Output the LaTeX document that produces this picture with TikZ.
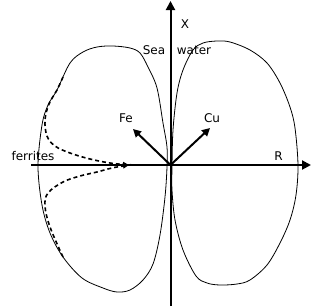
\documentclass[tikz,border=0pt]{standalone}
\usepackage{fontspec}
\setmainfont{DejaVu Sans}
\usetikzlibrary{arrows.meta}
\begin{document}
\begin{tikzpicture}[x=1pt,y=-1pt,
  axis/.style={line width=2pt,-{Triangle[length=9pt,width=9pt]}},
  vec/.style={line width=2pt,-{Triangle[length=8pt,width=8pt]}},
  lobe/.style={line width=0.8pt},
  dashline/.style={line width=1.6pt,dash pattern=on 4pt off 3pt,-{Triangle[length=6pt,width=5pt]}},
  lbl/.style={inner sep=0pt,anchor=base,font=\fontsize{12}{14}\selectfont}]
\useasboundingbox (0,0) rectangle (311,306);
\fill[white] (0,0) rectangle (311,306);
% lobes
\draw[lobe] plot[smooth cycle,tension=0.55] coordinates {
 (113,46) (130,48) (140,53) (148,67) (157,88) (163,123) (167,147) (167,167)
 (165,197) (160,235) (153,264) (143,280) (130,290) (117,292) (103,288) (82,278)
 (63,257) (50,233) (42,205) (38,166) (42,125) (48,105) (57,90) (70,63) (83,52) (97,47)};
\draw[lobe] plot[smooth cycle,tension=0.55] coordinates {
 (217,41) (230,42) (250,50) (267,63) (280,83) (290,107) (295,128) (298,165)
 (296,195) (290,220) (280,243) (267,265) (250,280) (237,284) (220,285) (207,283)
 (196,276) (183,250) (175,220) (172,190) (172,167) (173,130) (177,93) (183,70) (193,50) (203,43)};
% named points
\coordinate (O) at (170.5,165);
\coordinate (xb) at (170.5,306);
\coordinate (xt) at (170.5,1);
\coordinate (rl) at (31,165);
\coordinate (rr) at (311,165);
\coordinate (fe) at (133,129);
\coordinate (cu) at (210,128);
\coordinate (ft) at (129,165);
\coordinate (fu) at (63,77);
\coordinate (fd) at (63,257);
% axes
\draw[axis] (xb) -- (xt);
\draw[axis] (rl) -- (rr);
\draw[vec] (O) -- (fe);
\draw[vec] (O) -- (cu);
% dashed ferrite curves
\draw[dashline] plot[smooth,tension=0.6] coordinates {(fu) (57,90) (49,104) (45,120) (47,136) (55,146) (70,153) (90,159) (110,163) (ft)};
\draw[dashline] plot[smooth,tension=0.6] coordinates {(fd) (50,227) (45,206) (48,193) (63,182) (80,176) (97,172) (112,168) (ft)};
% labels
\node[lbl] (lx) at (185,28) {X};
\node[lbl] (lsea) at (154,54) {Sea};
\node[lbl] (lwater) at (194,54) {water};
\node[lbl] (lfe) at (126,122) {Fe};
\node[lbl] (lcu) at (212,122) {Cu};
\node[lbl] (lr) at (278.5,160) {R};
\node[lbl] (lfer) at (33,160) {ferrites};
\end{tikzpicture}
\end{document}
